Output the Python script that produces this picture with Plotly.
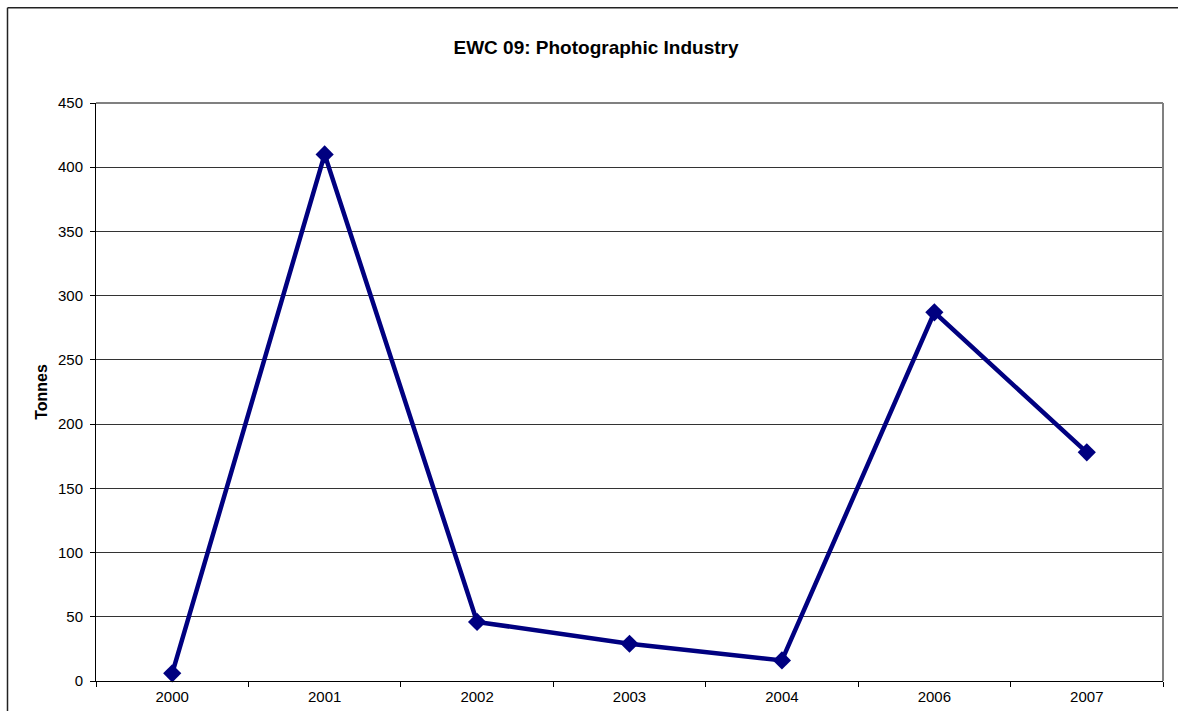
import plotly.graph_objects as go

years = ["2000", "2001", "2002", "2003", "2004", "2006", "2007"]
tonnes = [6, 410, 46, 29, 16, 287, 178]
y_ticks = [0, 50, 100, 150, 200, 250, 300, 350, 400, 450]

W, H = 1178, 711
L, R, T, B = 96, 1163, 102.7, 681

fig = go.Figure()
fig.add_trace(go.Scatter(
    x=years, y=tonnes, mode="lines+markers",
    line=dict(color="#000080", width=4.5),
    marker=dict(symbol="diamond", size=14, color="#000080"),
    showlegend=False, cliponaxis=False,
))

font = "Liberation Sans, Arial, sans-serif"
fig.update_layout(
    width=W, height=H,
    margin=dict(l=L, r=W - R, t=T, b=H - B, autoexpand=False),
    paper_bgcolor="white", plot_bgcolor="white",
    font=dict(family=font, size=15, color="black"),
    title=dict(text="<b>EWC 09: Photographic Industry</b>", x=596 / W, xanchor="center",
               y=1 - 47 / H, yanchor="middle", yref="container", xref="container",
               font=dict(size=19, family=font, color="black")),
    xaxis=dict(type="category", range=[-0.5, 6.5], tickson="boundaries",
               ticks="outside", ticklen=5, tickcolor="black", showgrid=False,
               showline=True, linecolor="black", linewidth=1, zeroline=False,
               ticklabelstandoff=2, tickfont=dict(size=15)),
    yaxis=dict(range=[0, 450], tickvals=y_ticks, ticks="outside", ticklen=5,
               tickcolor="black", showgrid=True, gridcolor="#333333", gridwidth=1,
               showline=True, linecolor="black", linewidth=1, zeroline=False,
               ticklabelstandoff=4, tickfont=dict(size=15),
               title=dict(text="<b>Tonnes</b>", font=dict(size=16), standoff=6)),
)

# plot-area border (top & right, gray)
fig.add_shape(type="line", xref="paper", yref="paper", x0=0, x1=1, y0=1, y1=1,
              line=dict(color="#808080", width=2), layer="above")
fig.add_shape(type="line", xref="paper", yref="paper", x0=1, x1=1, y0=0, y1=1,
              line=dict(color="#808080", width=2), layer="above")

# outer chart border (left and top edges visible; the rest lies outside the picture)
pw, ph = R - L, B - T
bx = (7.5 - L) / pw
by = 1 + (T - 7.5) / ph
fig.add_shape(type="line", xref="paper", yref="paper", x0=bx, x1=1.3, y0=by, y1=by,
              line=dict(color="#222222", width=1.5), layer="below")
fig.add_shape(type="line", xref="paper", yref="paper", x0=bx, x1=bx, y0=-0.3, y1=by,
              line=dict(color="#222222", width=1.5), layer="below")

fig.write_html("out.html", config={"displayModeBar": False},
               post_script="document.body.style.margin='0';")
